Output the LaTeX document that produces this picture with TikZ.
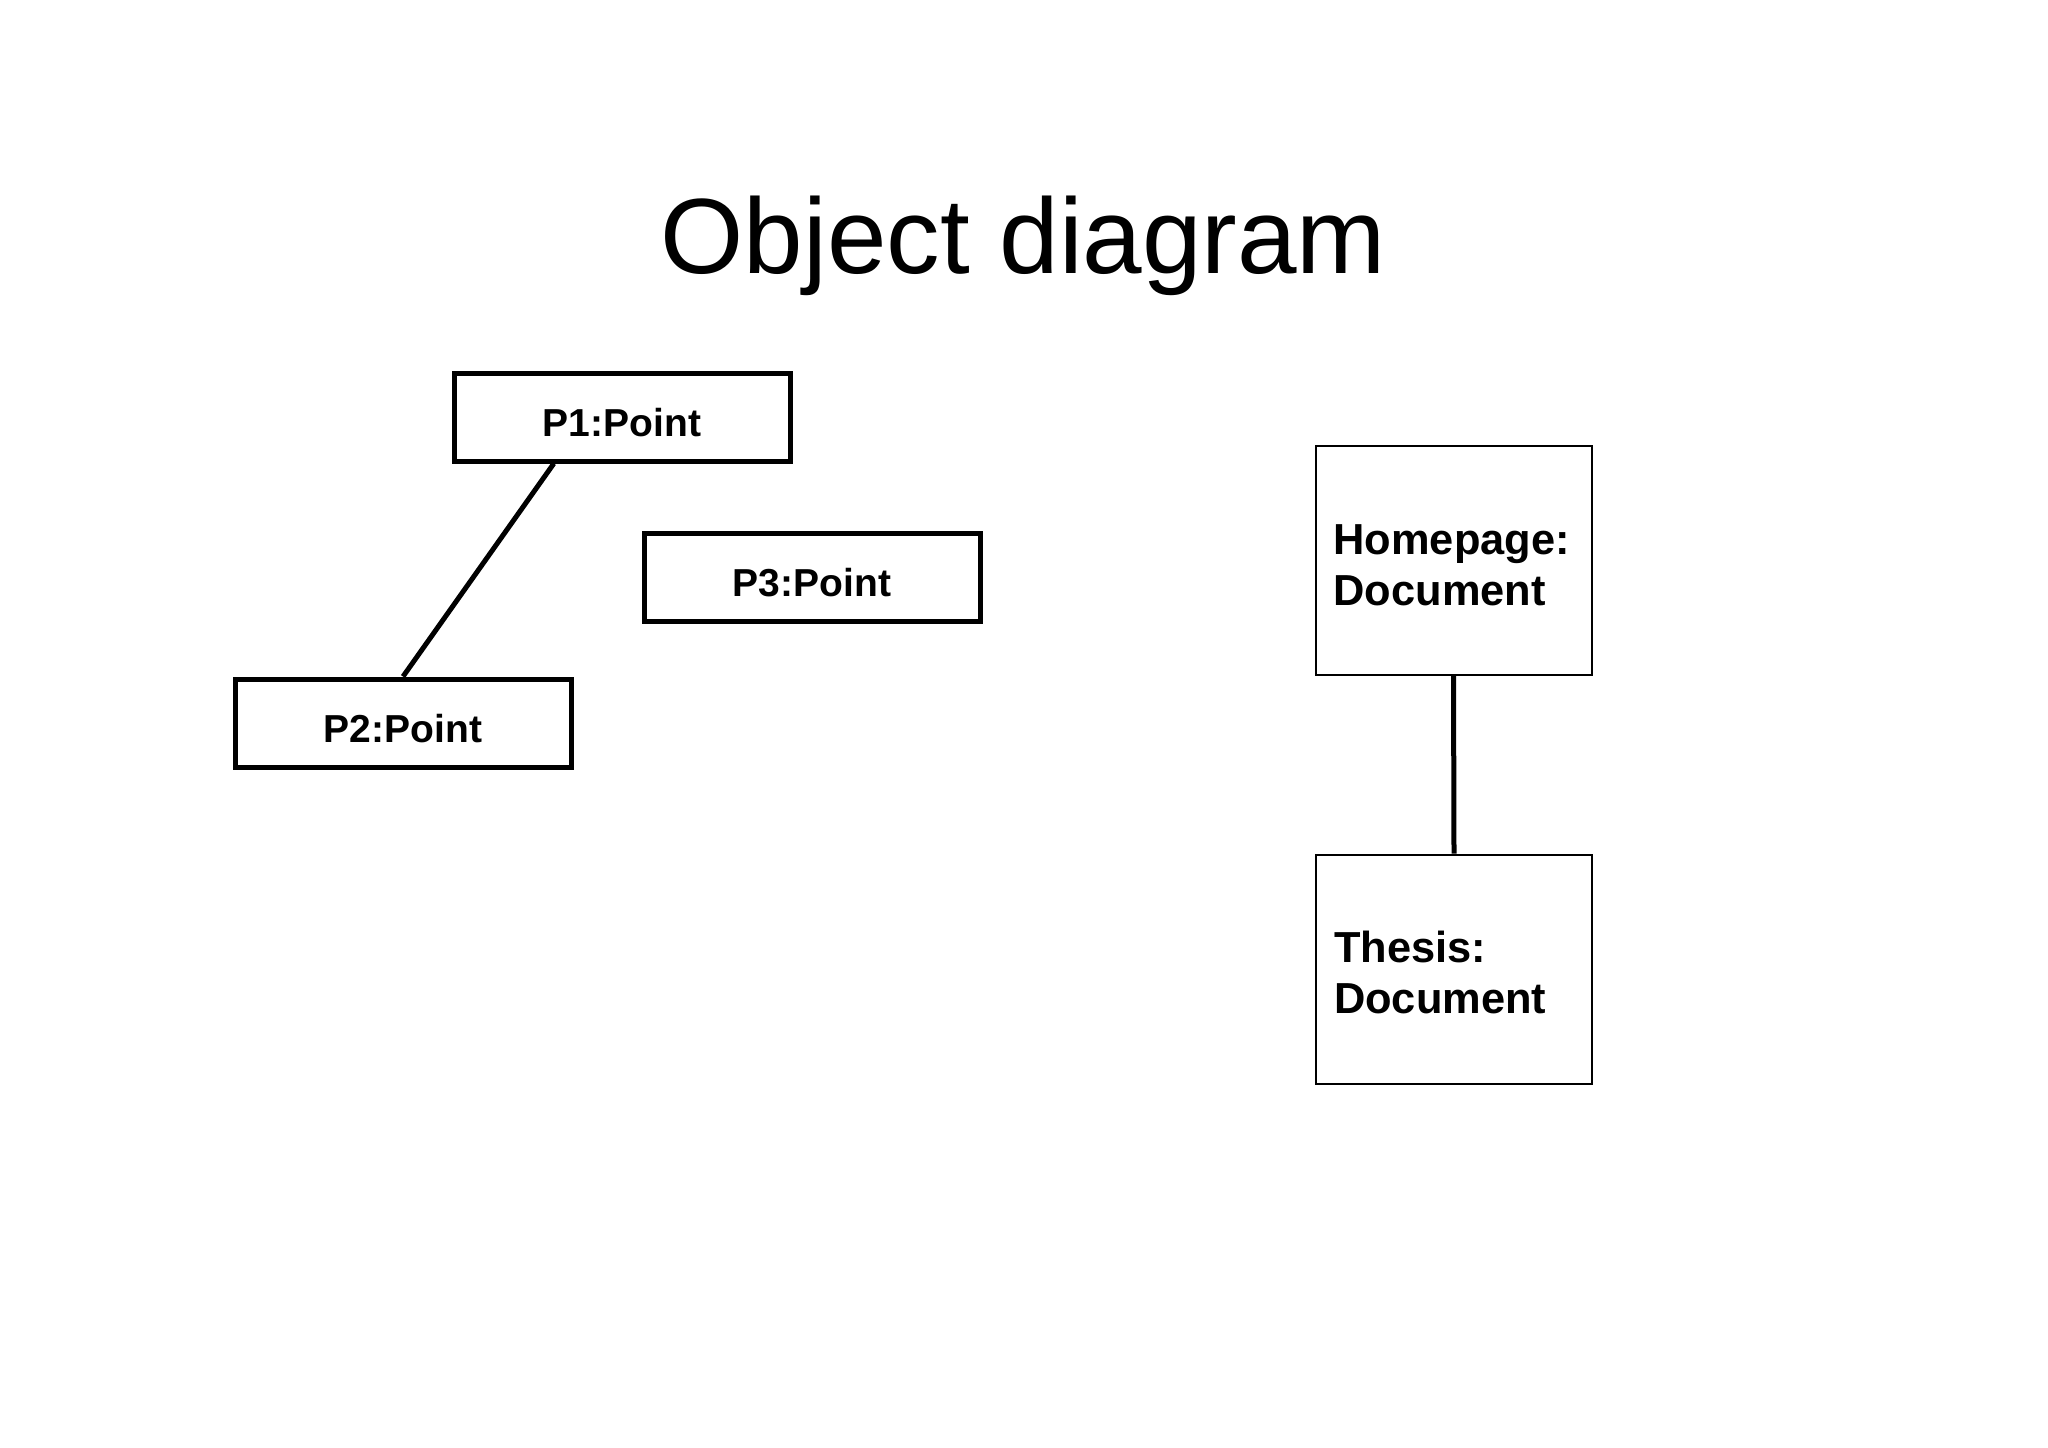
\documentclass[tikz,border=0pt]{standalone}
\usepackage{fontspec}
\setmainfont{Liberation Sans}
\usetikzlibrary{calc}
\newcommand{\upperpad}{\rule{0pt}{19.5pt}}
\begin{document}
\begin{tikzpicture}[x=0.5pt,y=-0.5pt,
  pointbox/.style={draw=black,line width=2.5pt,rectangle,minimum width=168pt,minimum height=44pt,inner sep=0pt,
    text height=19pt,text depth=0pt,
    font=\fontsize{19.5}{23}\selectfont\bfseries},
  docbox/.style={draw=black,line width=1pt,rectangle,minimum width=138pt,minimum height=114.5pt,inner xsep=9pt,inner ysep=0pt,
    text width=120pt,align=left,font=\fontsize{21.7}{25.5}\selectfont\bfseries},
  link/.style={draw=black,line width=2.5pt}]
\useasboundingbox (0,0) rectangle (2048,1447);
\node[anchor=base,font=\fontsize{53.5}{60}\selectfont] (title) at (1023.5,273) {Object diagram};
\node[pointbox] (P1) at (622,417) {P1:Point};
\node[pointbox] (P3) at (812,577.5) {P3:Point};
\node[pointbox] (P2) at (403,723) {P2:Point};
\node[docbox] (Home) at (1453.5,560.5) {\upperpad Homepage:\\Document};
\node[docbox] (Thesis) at (1454,969) {\upperpad Thesis:\\Document};
\draw[link] ($(P1.south west)!0.3!(P1.south east)$) -- (P2.north);
\draw[link] (Home.south) -- (Thesis.north);
\end{tikzpicture}
\end{document}
